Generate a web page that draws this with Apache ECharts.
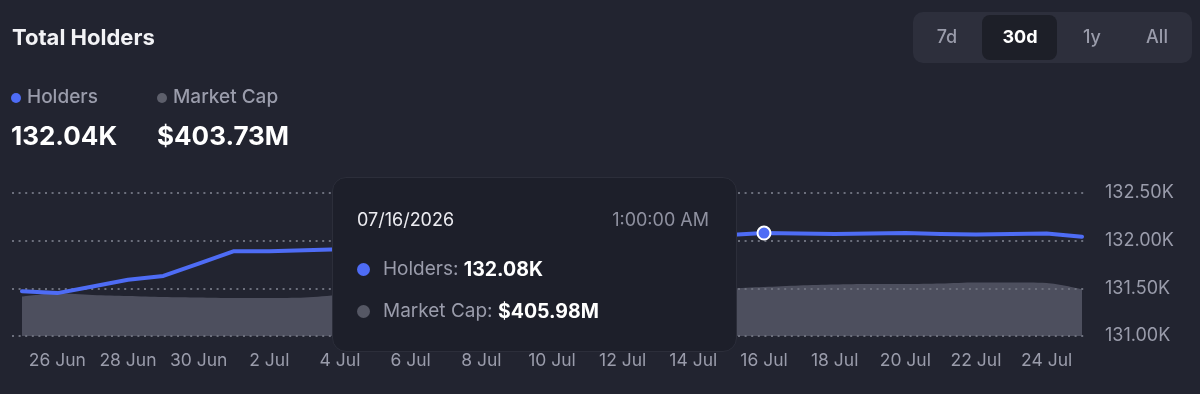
<!DOCTYPE html>
<html><head><meta charset="utf-8">
<script src="https://cdn.jsdelivr.net/npm/echarts@6/dist/echarts.min.js"></script>
<style>html,body{margin:0;padding:0;background:#222430;}#c{width:1200px;height:394px;}</style>
</head><body><div id="c"></div>
<script>
// ---- data ----
const categories = ['25 Jun','26 Jun','27 Jun','28 Jun','29 Jun','30 Jun','1 Jul','2 Jul','3 Jul','4 Jul','5 Jul','6 Jul','7 Jul','8 Jul','9 Jul','10 Jul','11 Jul','12 Jul','13 Jul','14 Jul','15 Jul','16 Jul','17 Jul','18 Jul','19 Jul','20 Jul','21 Jul','22 Jul','23 Jul','24 Jul','25 Jul'];
// holders in thousands
const holders = [131.47,131.45,131.52,131.59,131.63,131.76,131.89,131.89,131.90,131.91,131.92,131.94,131.96,131.98,132.00,132.01,132.02,132.03,132.04,132.05,132.06,132.08,132.075,132.07,132.075,132.08,132.07,132.065,132.07,132.075,132.04];
// market cap in millions USD
const marketCap = [396.3,399.7,398.0,397.0,396.0,395.5,395.0,395.0,395.5,398.0,399.0,399.5,400.0,400.5,401.0,401.5,402.0,402.5,403.0,403.5,404.5,405.98,407.5,408.5,409.0,409.0,409.5,410.5,410.5,410.0,403.73];
const holderTicks = [131.0, 131.5, 132.0, 132.5];
const ranges = ['7d','30d','1y','All'];
const activeRange = '30d';
const hoverIdx = 21;
const hoverDate = '07/16/2026';
const hoverTime = '1:00:00 AM';

// ---- style ----
const BG = '#222430';
const BLUE = '#4e6cf5';
const GREY_AREA = 'rgba(100,102,118,0.66)';
const MUTED = '#9a9cab';
const FONT = 'Inter, "Noto Sans", sans-serif';

const chart = echarts.init(document.getElementById('c'), null, {renderer:'canvas'});

const btnCenters = [947, 1020, 1092, 1157];
const graphics = [
  {type:'text', left:12, top:27, style:{text:'Total Holders', fill:'#f2f2f5', font:'700 22px ' + FONT}},
  {type:'circle', shape:{cx:16, cy:98, r:5}, style:{fill:BLUE}},
  {type:'text', left:27, top:88, style:{text:'Holders', fill:MUTED, font:'500 19px ' + FONT}},
  {type:'circle', shape:{cx:162, cy:98, r:5}, style:{fill:'#5d5f6b'}},
  {type:'text', left:173, top:88, style:{text:'Market Cap', fill:MUTED, font:'500 19px ' + FONT}},
  {type:'text', left:11, top:124, style:{text:holders[holders.length-1].toFixed(2)+'K', fill:'#ffffff', font:'700 26px ' + FONT}},
  {type:'text', left:157, top:124, style:{text:'$'+marketCap[marketCap.length-1].toFixed(2)+'M', fill:'#ffffff', font:'700 26px ' + FONT}},
  {type:'rect', shape:{x:913, y:12, width:279, height:51, r:10}, style:{fill:'#2d2f3c'}},
  {type:'rect', shape:{x:982, y:15, width:75, height:45, r:8}, style:{fill:'#1d1f28'}}
];
ranges.forEach((r,i)=>{
  graphics.push({type:'text', x:btnCenters[i], y:38, style:{text:r, fill: r===activeRange ? '#ffffff' : MUTED,
    font:(r===activeRange ? '700 ' : '500 ') + '18px ' + FONT, align:'center', verticalAlign:'middle'}});
});

const option = {
  backgroundColor: BG,
  animation: false,
  graphic: graphics,
  grid: [
    {left:12, right:113, top:193, height:143},
    {left:22, right:118, top:193, height:143}
  ],
  xAxis: [
    {gridIndex:0, type:'category', data:categories, show:false},
    {gridIndex:1, type:'category', data:categories, boundaryGap:false,
     axisLine:{show:false}, axisTick:{show:false},
     axisLabel:{interval:(i)=> i % 2 === 1, color:MUTED, fontSize:17.5, fontFamily:FONT, margin:16}}
  ],
  yAxis: [
    {gridIndex:0, type:'value', position:'right', min:holderTicks[0], max:holderTicks[holderTicks.length-1], interval:0.5, z:3,
     axisLine:{show:false}, axisTick:{show:false},
     axisLabel:{color:MUTED, fontSize:18, fontFamily:FONT, margin:18, formatter:(v)=>v.toFixed(2)+'K'},
     splitLine:{show:true, lineStyle:{color:'#6c6f7c', width:2, type:[2,4.6]}}},
    {gridIndex:1, type:'value', min:131, max:132.5, show:false},
    {gridIndex:1, type:'value', min:357, max:500, show:false}
  ],
  tooltip: {
    trigger:'item', triggerOn:'none', alwaysShowContent:true, transitionDuration:0,
    position:[332,177], padding:0, backgroundColor:'#1d1f2a', borderColor:'#2c2e3a', borderWidth:1,
    extraCssText:'width:405px;height:175px;box-sizing:border-box;padding:31px 27px 0 24px;border-radius:14px;box-shadow:none;',
    formatter: function(){
      const h = holders[hoverIdx].toFixed(2)+'K';
      const m = '$'+marketCap[hoverIdx].toFixed(2)+'M';
      return '<div style="font-family:'+FONT.replace(/"/g,"'")+';">'
        + '<div style="display:flex;justify-content:space-between;font-size:18px;line-height:22px;">'
        + '<span style="color:#ececf1;">'+hoverDate+'</span><span style="color:#8f91a0;">'+hoverTime+'</span></div>'
        + '<div style="margin-top:26px;font-size:19px;line-height:24px;display:flex;align-items:center;">'
        + '<span style="display:inline-block;width:13px;height:13px;border-radius:50%;background:'+BLUE+';margin:0 13px 0 0;"></span>'
        + '<span style="color:#9a9cab;">Holders:&nbsp;</span><b style="color:#fff;font-weight:700;font-size:19.5px;">'+h+'</b></div>'
        + '<div style="margin-top:18px;font-size:19px;line-height:24px;display:flex;align-items:center;">'
        + '<span style="display:inline-block;width:13px;height:13px;border-radius:50%;background:#555764;margin:0 13px 0 0;"></span>'
        + '<span style="color:#9a9cab;">Market Cap:&nbsp;</span><b style="color:#fff;font-weight:700;font-size:19.5px;">'+m+'</b></div>'
        + '</div>';
    }
  },
  series: [
    {name:'Market Cap', type:'line', xAxisIndex:1, yAxisIndex:2, data:marketCap, smooth:0.3,
     showSymbol:false, lineStyle:{width:0}, areaStyle:{color:GREY_AREA, opacity:1}, emphasis:{disabled:true}, z:2},
    {name:'Holders', type:'line', xAxisIndex:1, yAxisIndex:1, data:holders, smooth:false,
     symbol:'circle', showSymbol:true, showAllSymbol:true,
     symbolSize:(v,p)=> p.dataIndex === hoverIdx ? 13 : 0,
     itemStyle:{color:BLUE, borderColor:'#ffffff', borderWidth:2},
     lineStyle:{color:BLUE, width:4, cap:'round', join:'round'}, emphasis:{disabled:true}, z:4}
  ]
};
chart.setOption(option);
chart.dispatchAction({type:'showTip', seriesIndex:1, dataIndex:hoverIdx});
</script>
</body></html>
